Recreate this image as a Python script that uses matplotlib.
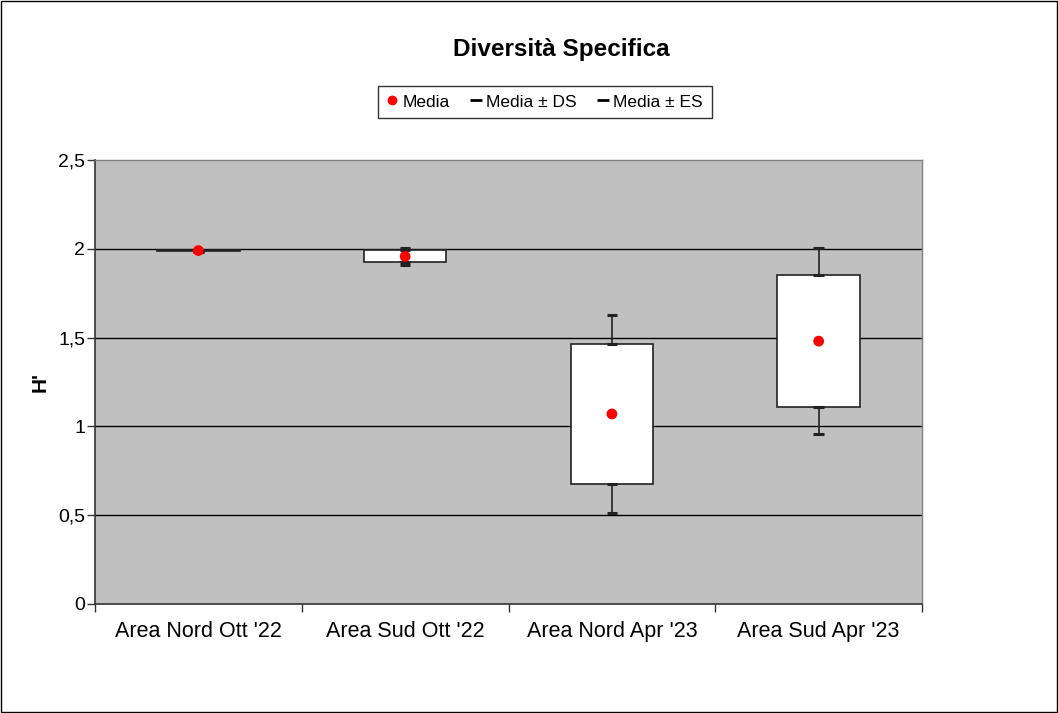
import numpy as np
import matplotlib
matplotlib.use('Agg')
import matplotlib.pyplot as plt
from matplotlib.lines import Line2D
from matplotlib.patches import Rectangle

plt.rcParams['font.family'] = ['Liberation Sans', 'DejaVu Sans']

# dati
categorie = ["Area Nord Ott '22", "Area Sud Ott '22", "Area Nord Apr '23", "Area Sud Apr '23"]
media = [1.99, 1.957, 1.07, 1.48]
es = [0.004, 0.034, 0.394, 0.37]
ds = [0.006, 0.048, 0.557, 0.525]

fig = plt.figure(figsize=(10.58, 7.13), dpi=100)
ax = fig.add_axes([0.0898, 0.1529, 0.7817, 0.6227])
ax.set_facecolor('#C0C0C0')

x = np.arange(len(categorie))
box_w = 0.4
cap_w = 0.05

for i in range(len(categorie)):
    m, e, d = media[i], es[i], ds[i]
    # box = media +- ES
    ax.add_patch(Rectangle((x[i] - box_w / 2, m - e), box_w, 2 * e,
                           facecolor='white', edgecolor='#222222', lw=1.2, zorder=3))
    # baffi = media +- DS
    ax.plot([x[i], x[i]], [m + e, m + d], color='#222222', lw=1.2, zorder=3)
    ax.plot([x[i], x[i]], [m - e, m - d], color='#222222', lw=1.2, zorder=3)
    for yy in [m + d, m - d, m + e, m - e]:
        ax.plot([x[i] - cap_w / 2, x[i] + cap_w / 2], [yy, yy], color='#222222', lw=2.2,
                solid_capstyle='butt', zorder=4)

ax.scatter(x, media, s=60, color='#FF0000', zorder=5, edgecolors='none')

ax.set_xlim(-0.5, len(categorie) - 0.5)
ax.set_ylim(0, 2.5)
ax.set_yticks(np.arange(0, 2.51, 0.5))
ax.set_yticklabels(['0', '0,5', '1', '1,5', '2', '2,5'], fontsize=14)
for yy in [0.5, 1.0, 1.5, 2.0]:
    ax.axhline(yy, color='black', lw=1.0, zorder=1)

ax.set_xticks(x)
ax.set_xticklabels(categorie, fontsize=15.5)
ax.tick_params(axis='x', length=0, pad=12)
ax.set_xticks(np.arange(-0.5, len(categorie), 1.0), minor=True)
ax.tick_params(axis='x', which='minor', length=6, color='#333333', width=1.0)
ax.tick_params(axis='y', length=6, color='#333333', width=1.0, pad=1)

for s in ['left', 'bottom']:
    ax.spines[s].set_color('#333333')
    ax.spines[s].set_linewidth(1.2)
for s in ['top', 'right']:
    ax.spines[s].set_color('#808080')
    ax.spines[s].set_linewidth(1.0)

ax.set_ylabel("H'", fontsize=15, fontweight='bold')
ax.yaxis.set_label_coords(-0.055, 0.5)

fig.text(0.531, 0.93, 'Diversità Specifica', ha='center', va='center',
         fontsize=17.5, fontweight='bold')

handles = [
    Line2D([], [], marker='o', color='#FF0000', linestyle='none', markersize=6),
    Line2D([], [], marker='_', color='black', linestyle='none', markersize=8, markeredgewidth=2),
    Line2D([], [], marker='_', color='black', linestyle='none', markersize=8, markeredgewidth=2),
]
leg = fig.legend(handles, ['Media', 'Media ± DS', 'Media ± ES'], ncol=3,
                 loc='center', bbox_to_anchor=(0.515, 0.857), fontsize=12.5,
                 frameon=True, fancybox=False, edgecolor='black', handlelength=0.6,
                 handletextpad=0.3, columnspacing=1.2, borderpad=0.5)
leg.get_frame().set_linewidth(1.0)

fig.patches.append(Rectangle((0.001, 0.001), 0.998, 0.998, transform=fig.transFigure,
                             fill=False, edgecolor='black', lw=1.0))

fig.savefig('out.png', dpi=100)
